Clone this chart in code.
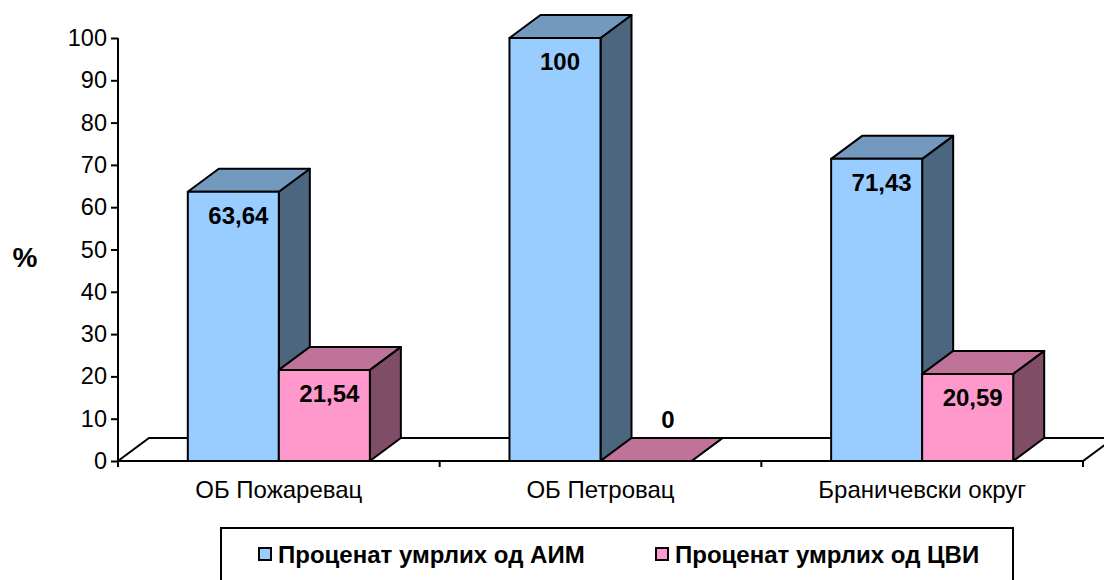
<!DOCTYPE html>
<html>
<head>
<meta charset="utf-8">
<script src="https://cdn.jsdelivr.net/npm/d3@7"></script>
<style>
  html, body { margin: 0; padding: 0; background: #fff; }
  svg { display: block; font-family: Arial, "Liberation Sans", sans-serif; }
</style>
</head>
<body>
<div id="chart"></div>
<script>
// Data
const categories = ["ОБ Пожаревац", "ОБ Петровац", "Браничевски округ"];
const seriesNames = ["Проценат умрлих од АИМ", "Проценат умрлих од ЦВИ"];
const aimValues = [63.64, 100, 71.43];
const cviValues = [21.54, 0, 20.59];
const yTicks = [0, 10, 20, 30, 40, 50, 60, 70, 80, 90, 100];

const seriesColors = [
  { front: "#99ccff", top: "#7399bf", side: "#4d6680" },
  { front: "#ff99cc", top: "#bf7399", side: "#804d66" },
];

const width = 1104;
const height = 580;
const margin = { top: 38, right: 21, bottom: 119, left: 118 };
const depth = { dx: 31, dy: -23 };

const svg = d3
  .select("#chart")
  .append("svg")
  .attr("width", width)
  .attr("height", height)
  .attr("viewBox", [0, 0, width, height]);

const x0 = d3
  .scaleBand()
  .domain(categories)
  .range([margin.left, width - margin.right])
  .paddingInner(0.434)
  .paddingOuter(0.217);

const x1 = d3
  .scaleBand()
  .domain(d3.range(seriesNames.length))
  .range([0, x0.bandwidth()]);

const y = d3
  .scaleLinear()
  .domain([0, 100])
  .range([height - margin.bottom, margin.top]);

const y0 = y(0);
const fmt = (v) => String(v).replace(".", ",");

// Floor (3D base plane)
const xLeft = x0.range()[0];
const xRight = x0.range()[1];
svg
  .append("path")
  .attr(
    "d",
    `M${xLeft},${y0}L${xRight},${y0}L${xRight + depth.dx},${y0 + depth.dy}L${xLeft + depth.dx},${y0 + depth.dy}Z`,
  )
  .attr("fill", "#fff")
  .attr("stroke", "#000")
  .attr("stroke-width", 2);

// Bars, drawn group by group so the front series covers the back side faces
const rows = categories.map((c, i) => ({
  category: c,
  values: [aimValues[i], cviValues[i]],
}));

rows.forEach((row) => {
  row.values.forEach((v, s) => {
    const xa = x0(row.category) + x1(s);
    const xb = xa + x1.bandwidth();
    const yt = y(v);
    const g = svg.append("g").attr("class", "bar");
    const c = seriesColors[s];

    // side face
    g.append("path")
      .attr(
        "d",
        `M${xb},${y0}L${xb + depth.dx},${y0 + depth.dy}L${xb + depth.dx},${yt + depth.dy}L${xb},${yt}Z`,
      )
      .attr("fill", c.side);

    // top face
    g.append("path")
      .attr(
        "d",
        `M${xa},${yt}L${xb},${yt}L${xb + depth.dx},${yt + depth.dy}L${xa + depth.dx},${yt + depth.dy}Z`,
      )
      .attr("fill", c.top);

    // front face
    if (v > 0) {
      g.append("rect")
        .attr("x", xa)
        .attr("y", yt)
        .attr("width", xb - xa)
        .attr("height", y0 - yt)
        .attr("fill", c.front);
    }

    g.selectAll("path, rect")
      .attr("stroke", "#000")
      .attr("stroke-width", 2)
      .attr("stroke-linejoin", "round");

    // value label
    const cx = (xa + xb) / 2;
    g.append("text")
      .attr("x", v > 0 ? cx + 5 : cx + 22)
      .attr("y", v > 0 ? yt + 32 : y0 + depth.dy - 10)
      .attr("text-anchor", "middle")
      .attr("font-size", 24)
      .attr("font-weight", "bold")
      .attr("fill", "#000")
      .text(fmt(v));
  });
});

// Y axis
const yAxis = d3
  .axisLeft(y)
  .tickValues(yTicks)
  .tickSize(7)
  .tickPadding(4)
  .tickFormat(d3.format("d"));

const yAxisG = svg
  .append("g")
  .attr("class", "y-axis")
  .attr("transform", `translate(${margin.left},0)`)
  .call(yAxis);

yAxisG.select(".domain").attr("d", `M0,${y(100)}V${y0}`);
yAxisG.selectAll("line, .domain").attr("stroke", "#000").attr("stroke-width", 2);
yAxisG
  .selectAll("text")
  .attr("font-size", 23.5)
  .attr("font-family", "Arial, 'Liberation Sans', sans-serif")
  .attr("fill", "#000");

// X axis: ticks on the category boundaries
const boundaries = categories.map((c) => x0(c) - (x0.step() - x0.bandwidth()) / 2);
boundaries.push(xRight);

const xAxisG = svg.append("g").attr("class", "x-axis");
xAxisG
  .append("line")
  .attr("x1", xLeft)
  .attr("x2", xRight)
  .attr("y1", y0)
  .attr("y2", y0)
  .attr("stroke", "#000")
  .attr("stroke-width", 2);

xAxisG
  .selectAll(".tick")
  .data(boundaries)
  .enter()
  .append("line")
  .attr("x1", (d) => d)
  .attr("x2", (d) => d)
  .attr("y1", y0)
  .attr("y2", y0 + 6)
  .attr("stroke", "#000")
  .attr("stroke-width", 2);

xAxisG
  .selectAll(".cat")
  .data(categories)
  .enter()
  .append("text")
  .attr("x", (d) => x0(d) + x0.bandwidth() / 2)
  .attr("y", y0 + 37)
  .attr("text-anchor", "middle")
  .attr("font-size", 24)
  .attr("fill", "#000")
  .text((d) => d);

// Y axis title
svg
  .append("text")
  .attr("x", 25)
  .attr("y", 267)
  .attr("text-anchor", "middle")
  .attr("font-size", 28)
  .attr("font-weight", "bold")
  .text("%");

// Legend
const legend = svg.append("g").attr("class", "legend");
legend
  .append("rect")
  .attr("x", 221)
  .attr("y", 528)
  .attr("width", 792)
  .attr("height", 80)
  .attr("fill", "#fff")
  .attr("stroke", "#000")
  .attr("stroke-width", 2);

const legendX = [259, 656];
seriesNames.forEach((name, i) => {
  legend
    .append("rect")
    .attr("x", legendX[i])
    .attr("y", 548)
    .attr("width", 12)
    .attr("height", 12)
    .attr("fill", seriesColors[i].front)
    .attr("stroke", "#000")
    .attr("stroke-width", 2);
  legend
    .append("text")
    .attr("x", legendX[i] + 19)
    .attr("y", 563)
    .attr("font-size", 24)
    .attr("font-weight", "bold")
    .text(name);
});
</script>
</body>
</html>
